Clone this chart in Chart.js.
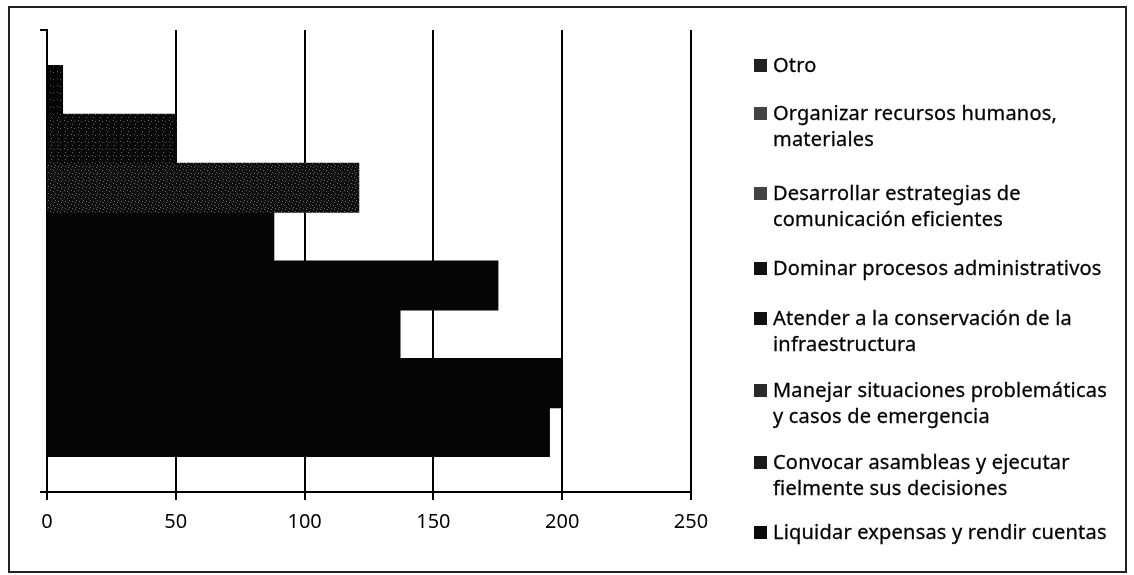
<!DOCTYPE html>
<html>
<head>
<meta charset="utf-8">
<script src="https://cdn.jsdelivr.net/npm/chart.js@4.4.1/dist/chart.umd.min.js"></script>
<style>
  body { margin: 0; background: #fff; }
  #wrap { position: relative; width: 1134px; height: 575px; }
  #frame {
    position: absolute; left: 8px; top: 6px; width: 1119px; height: 567px;
    border: 2px solid #222; box-sizing: border-box;
  }
  #legend {
    position: absolute; left: 0; top: 0;
    font-family: "Noto Sans", sans-serif; font-size: 20px; letter-spacing: 0.2px; color: #000;
    -webkit-text-stroke: 0.3px #000;
  }
  .item { position: absolute; left: 754px; display: flex; align-items: flex-start; line-height: 26px; white-space: nowrap; }
  .box { width: 13px; height: 13px; margin: 7px 6px 0 0; flex: none; }
</style>
</head>
<body>
<div id="wrap">
  <div id="frame"></div>
  <canvas id="chart" width="1134" height="575"></canvas>
  <div id="legend"></div>
</div>
<script>
// series names (top to bottom as drawn)
const seriesLabels = [
  ["Otro"],
  ["Organizar recursos humanos,", "materiales"],
  ["Desarrollar estrategias de", "comunicación eficientes"],
  ["Dominar procesos administrativos"],
  ["Atender a la conservación de la", "infraestructura"],
  ["Manejar situaciones problemáticas", "y casos de emergencia"],
  ["Convocar asambleas y ejecutar", "fielmente sus decisiones"],
  ["Liquidar expensas y rendir cuentas"]
];
const seriesValues = [6, 50, 121, 88, 175, 137, 200, 195];
const xTicks = [0, 50, 100, 150, 200, 250];

// legend layout: centre of each entry's first line
const legendLineY = [65, 113, 193, 268, 318, 390, 462, 532];

// scanned look: dark fills, some with speckle
function speckle(base, dot, n) {
  const c = document.createElement("canvas");
  c.width = 7; c.height = 7;
  const g = c.getContext("2d");
  g.fillStyle = base; g.fillRect(0, 0, 7, 7);
  g.fillStyle = dot;
  const pts = [[1, 1], [4, 2], [2, 5], [6, 4], [5, 6], [0, 3]];
  pts.slice(0, n).forEach(p => g.fillRect(p[0], p[1], 1, 1));
  return g.createPattern(c, "repeat");
}
const ctx = document.getElementById("chart").getContext("2d");
const fills = [
  speckle("#050505", "#555", 2),
  speckle("#0a0a0a", "#666", 3),
  speckle("#0f0f0f", "#6a6a6a", 5),
  "#050505", "#050505", "#050505", "#050505", "#050505"
];
const legendFills = ["#222", "#444", "#444", "#111", "#111", "#2a2a2a", "#1a1a1a", "#0a0a0a"];

const datasets = seriesLabels.map((lab, i) => ({
  label: lab.join(" "),
  data: [seriesValues[i]],
  backgroundColor: fills[i],
  borderWidth: 0,
  inflateAmount: 0.6,
  categoryPercentage: 0.846,
  barPercentage: 1.0
}));

new Chart(ctx, {
  type: "bar",
  data: { labels: [""], datasets },
  options: {
    responsive: false,
    animation: false,
    indexAxis: "y",
    layout: { padding: { left: 40, right: 443, top: 30, bottom: 43 } },
    plugins: { legend: { display: false }, tooltip: { enabled: false } },
    scales: {
      x: {
        min: 0, max: 250,
        afterBuildTicks: s => { s.ticks = xTicks.map(v => ({ value: v })); },
        afterFit: s => { s.height = 40; },
        grid: { color: "#000", lineWidth: 2, drawTicks: true, tickLength: 8, tickColor: "#000" },
        border: { display: true, color: "#000", width: 2 },
        ticks: { color: "#000", padding: 10, font: { family: "Noto Sans", size: 20 } }
      },
      y: {
        afterFit: s => { s.width = 7; },
        grid: { drawOnChartArea: false, drawTicks: true, tickLength: 7, color: "#000", lineWidth: 2 },
        border: { display: true, color: "#000", width: 2 },
        ticks: { display: false }
      }
    }
  }
});

// legend on the right, same order as the bars
const legend = document.getElementById("legend");
seriesLabels.forEach((lines, i) => {
  const item = document.createElement("div");
  item.className = "item";
  item.style.top = (legendLineY[i] - 13) + "px";
  const box = document.createElement("span");
  box.className = "box";
  box.style.background = legendFills[i];
  const txt = document.createElement("span");
  txt.innerHTML = lines.join("<br>");
  item.appendChild(box);
  item.appendChild(txt);
  legend.appendChild(item);
});
</script>
</body>
</html>
